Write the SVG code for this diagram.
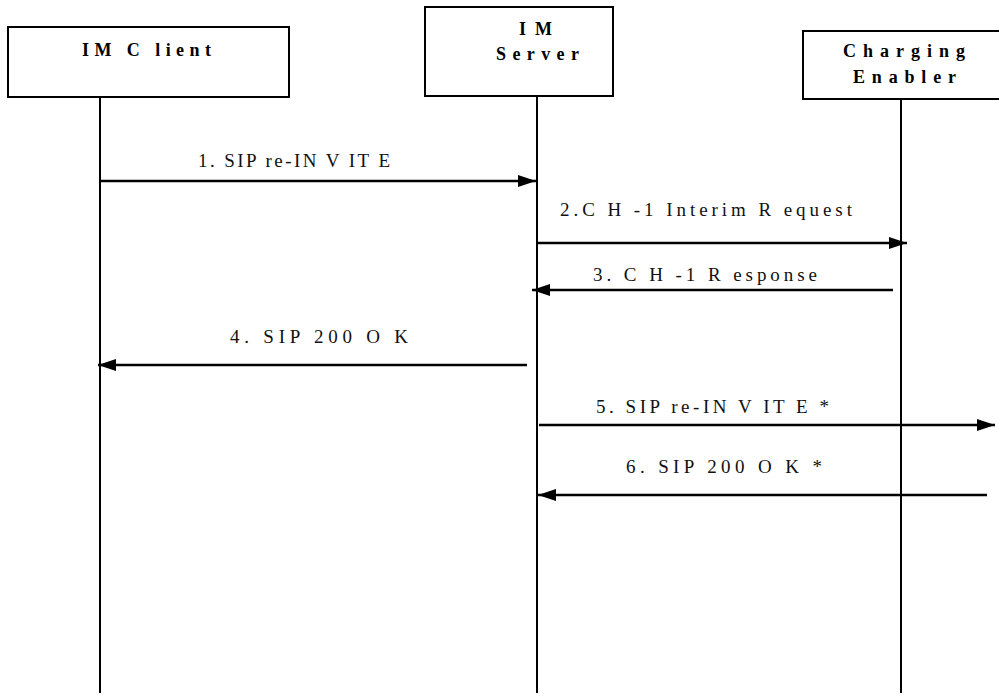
<svg xmlns="http://www.w3.org/2000/svg" width="999" height="696" viewBox="0 0 999 696">
<defs>
<style>
.box{fill:#fff;stroke:#000;stroke-width:2}
.life{stroke:#000;stroke-width:2;fill:none}
.msg{stroke:#000;stroke-width:2.6;fill:none}
.title{font-family:'Liberation Serif','Times New Roman',serif;font-weight:bold;font-size:18px;fill:#000}
.lbl{font-family:'Liberation Serif','Times New Roman',serif;font-size:19px;fill:#111}
</style>
<marker id="ah" viewBox="0 0 18 12" refX="18" refY="6" markerWidth="18" markerHeight="12" markerUnits="userSpaceOnUse" orient="auto">
<path d="M0,0 L18,6 L0,12 Z" fill="#000"/>
</marker>
</defs>
<rect width="999" height="696" fill="#fff"/>
<g id="client">
<rect class="box" x="8" y="27" width="281" height="70"/>
<text class="title" x="82" y="56" textLength="129" lengthAdjust="spacing">IM C lient</text>
<line class="life" x1="100" y1="97" x2="100" y2="693"/>
</g>
<g id="server">
<rect class="box" x="425" y="7" width="188" height="89"/>
<text class="title" x="519" y="35" textLength="33" lengthAdjust="spacing">IM</text>
<text class="title" x="496" y="60" textLength="83" lengthAdjust="spacing">Server</text>
<line class="life" x1="537" y1="96" x2="537" y2="693"/>
</g>
<g id="charging">
<rect class="box" x="803" y="31" width="205" height="68"/>
<text class="title" x="843" y="57" textLength="122" lengthAdjust="spacing">Charging</text>
<text class="title" x="853" y="83" textLength="103" lengthAdjust="spacing">Enabler</text>
<line class="life" x1="901" y1="99" x2="901" y2="693"/>
</g>
<g id="connectors">
<line class="msg" x1="100" y1="181" x2="536" y2="181" marker-end="url(#ah)"/>
<line class="msg" x1="537" y1="243" x2="907" y2="243" marker-end="url(#ah)"/>
<line class="msg" x1="893" y1="290" x2="532" y2="290" marker-end="url(#ah)"/>
<line class="msg" x1="527" y1="365" x2="98" y2="365" marker-end="url(#ah)"/>
<line class="msg" x1="539" y1="425" x2="995" y2="425" marker-end="url(#ah)"/>
<line class="msg" x1="987" y1="495" x2="538" y2="495" marker-end="url(#ah)"/>
</g>
<g id="labels">
<text class="lbl" x="198" y="167" textLength="192" lengthAdjust="spacing">1. SIP re-IN V IT E</text>
<text class="lbl" x="560" y="216" textLength="292" lengthAdjust="spacing">2.C H -1 Interim R equest</text>
<text class="lbl" x="593" y="281" textLength="224" lengthAdjust="spacing">3. C H -1 R esponse</text>
<text class="lbl" x="230" y="343" textLength="178" lengthAdjust="spacing">4. SIP 200 O K</text>
<text class="lbl" x="596" y="413" textLength="233" lengthAdjust="spacing">5. SIP re-IN V IT E *</text>
<text class="lbl" x="626" y="473" textLength="196" lengthAdjust="spacing">6. SIP 200 O K *</text>
</g>
</svg>
